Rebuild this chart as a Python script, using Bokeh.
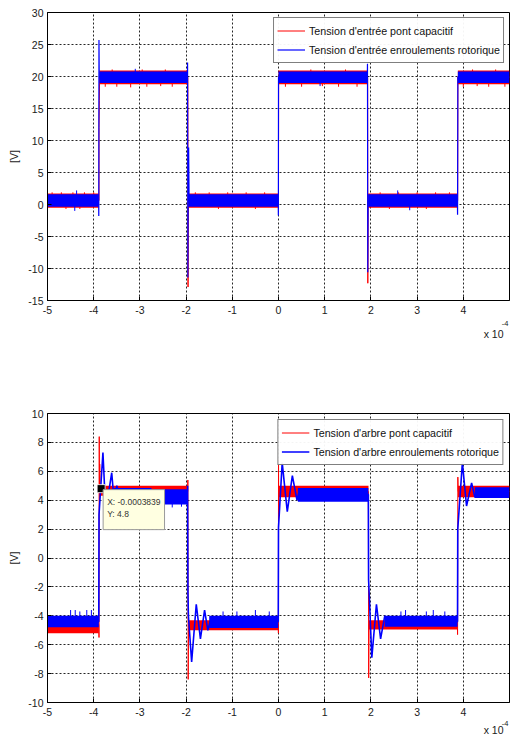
from bokeh.plotting import figure
from bokeh.models import Range1d, FixedTicker, Legend, LegendItem, Label, Title
from bokeh.layouts import column
from bokeh.embed import file_html
from bokeh.resources import INLINE

# ---------------- shared axis values (x in units of 1e-4 s) ----------------
x_ticks = [-5, -4, -3, -2, -1, 0, 1, 2, 3, 4]
top_y_ticks = [-15, -10, -5, 0, 5, 10, 15, 20, 25, 30]
bot_y_ticks = [-10, -8, -6, -4, -2, 0, 2, 4, 6, 8, 10]
x_scale_text = "x 10"
x_scale_exp = "-4"
y_label = "[V]"

top_labels = ["Tension d'entrée pont capacitif", "Tension d'entrée enroulements rotorique"]
bot_labels = ["Tension d'arbre pont capacitif", "Tension d'arbre enroulements rotorique"]

# ---------------- TOP PANEL: input voltages ----------------
top_red_x = [-5.0, -3.885, -3.885, -3.878, -3.872, -1.962, -1.958, -1.95, 0.0, 0.003, 1.93, 1.933, 1.94, 3.878, 3.883, 5.0]
top_red_y = [0.6, 0.6, 12.0, 16.2, 19.9, 19.9, -12.9, 0.6, 0.6, 19.9, 19.9, -12.3, 0.6, 0.6, 19.9, 19.9]

top_blue_x = [-5.0, -3.893, -3.89, -3.886, -3.88, -1.972, -1.968, -1.962, -1.955, -1.945, -1.935, -0.006, -0.003, 0.0,
              1.922, 1.926, 1.932, 1.94, 3.872, 3.876, 3.882, 5.0]
top_blue_y = [0.6, 0.6, -1.8, 25.7, 19.9, 19.9, 22.2, -11.4, 0.6, 8.9, 0.6, 0.6, -1.7, 19.9,
              19.9, 22.0, -10.6, 0.6, 0.6, -1.6, 19.9, 19.9]

# noise bands (start, end, low, high)
top_band_x0 = [-5.0, -3.875, -1.95, 0.0, 1.94, 3.882]
top_band_x1 = [-3.89, -1.962, 0.0, 1.928, 3.874, 5.0]
top_red_band_lo = [-0.5, 18.8, -0.5, 18.8, -0.5, 18.8]
top_red_band_hi = [1.7, 20.95, 1.7, 20.95, 1.7, 20.95]
top_blue_band_lo = [-0.35, 19.0, -0.35, 19.0, -0.35, 19.0]
top_blue_band_hi = [1.6, 20.8, 1.6, 20.8, 1.6, 20.8]

top_red_spike_x = [-3.75, -3.5, -3.2, -2.85, -2.55, -2.3, -3.6, -2.95, -2.45,
                   0.15, 0.5, 0.95, 1.3, 1.7, 0.7, 1.45,
                   4.0, 4.3, 4.55, 4.9, 4.2, 4.7,
                   -4.9, -4.7, -4.45, -4.2, -4.0, -4.6, -4.3,
                   -1.8, -1.5, -1.1, -0.7, -0.3, -1.3, -0.5,
                   2.2, 2.6, 3.0, 3.4, 3.7, 2.4, 3.2]
top_red_spike_y0 = [19.9] * 9 + [19.9] * 7 + [19.9] * 6 + [0.6] * 7 + [0.6] * 7 + [0.6] * 7
top_red_spike_y1 = [18.4, 18.4, 18.3, 18.4, 18.5, 18.4, 21.1, 21.1, 21.1,
                    18.4, 18.4, 18.5, 18.4, 18.4, 21.1, 21.1,
                    18.4, 18.5, 18.4, 18.4, 21.1, 21.1,
                    1.9, 1.9, 1.9, 1.9, 1.9, -0.7, -0.7,
                    1.9, 1.9, 1.9, 1.9, 1.9, -0.7, -0.7,
                    1.9, 1.9, 1.9, 1.9, 1.9, -0.7, -0.7]

top_blue_spike_x = [-4.41, -4.37, 2.58, 2.84, -3.1, 0.9]
top_blue_spike_y0 = [0.6, 0.6, 0.6, 0.6, 19.9, 19.9]
top_blue_spike_y1 = [-1.0, 2.2, 2.2, -0.9, 21.2, 18.5]

# ---------------- BOTTOM PANEL: shaft voltages ----------------
bot_red_x = [-5.0, -3.89, -3.885, -3.88, -3.875, -3.87, -3.86, -1.965, -1.962, -1.958, -1.955, -1.945, -0.005,
             -0.002, 0.0, 0.005, 0.012, 1.945, 1.948, 1.952, 1.96, 3.872, 3.876, 3.882, 3.888, 5.0]
bot_red_y = [-4.6, -4.6, -5.5, 8.4, 3.3, 6.5, 4.6, 4.6, 5.4, -3.2, -8.4, -4.6, -4.6,
             -5.2, 6.8, 3.2, 4.6, 4.6, -1.5, -8.3, -4.6, -4.6, -5.3, 5.6, 4.6, 4.6]

bot_blue_x = [-5.0, -3.89, -3.885, -3.80, -3.74, -3.61, -3.56, -3.50, -3.45,
              -1.972, -1.968, -1.96, -1.95, -1.88, -1.78, -1.69, -1.60, -1.53, -1.48,
              -0.005, 0.0, 0.08, 0.19, 0.30, 0.40, 0.46, 0.52,
              1.945, 1.95, 2.02, 2.12, 2.21, 2.30, 2.36,
              3.875, 3.88, 3.98, 4.07, 4.18, 4.25, 4.32, 5.0]
bot_blue_y = [-4.4, -4.4, 3.0, 7.3, 3.2, 5.9, 4.0, 5.0, 4.4,
              4.4, 5.0, -2.4, -4.0, -7.2, -3.2, -5.6, -3.6, -5.0, -4.4,
              -4.4, 2.1, 6.6, 3.2, 5.7, 4.0, 4.8, 4.4,
              4.4, -1.5, -6.9, -3.2, -5.6, -4.0, -4.4,
              -4.4, 2.0, 6.6, 3.6, 5.2, 4.2, 4.6, 4.6]

bot_red_band_x0 = [-5.0, -3.87, -1.95, 0.0, 1.955, 3.885]
bot_red_band_x1 = [-3.89, -1.962, -0.003, 1.948, 3.874, 5.0]
bot_red_band_lo = [-5.2, 4.3, -5.0, 4.2, -4.95, 4.2]
bot_red_band_hi = [-4.3, 5.0, -4.3, 5.0, -4.3, 5.0]

bot_blue_band_x0 = [-5.0, -3.56, -2.75, -1.5, 0.42, 2.3, 4.25]
bot_blue_band_x1 = [-3.89, -2.75, -1.972, -0.005, 1.945, 3.875, 5.0]
bot_blue_band_lo = [-4.8, 4.0, 3.7, -4.85, 3.9, -4.75, 4.15]
bot_blue_band_hi = [-4.0, 4.85, 4.75, -4.0, 4.85, -4.0, 4.9]

bot_blue_spike_x = [-4.5, -4.4, -4.3, -4.15, -4.05, -1.2, -0.9, -0.5, -0.2, 2.65, 2.75, 3.2, 3.35, 3.6, -2.6, -2.3, -2.1]
bot_blue_spike_y0 = [-4.4] * 14 + [4.3] * 3
bot_blue_spike_y1 = [-3.6, -3.6, -3.7, -3.6, -3.6, -3.7, -3.7, -3.6, -3.7, -3.7, -3.6, -3.7, -3.6, -3.7, 3.5, 3.5, 3.55]

datatip_x = [-3.839]
datatip_y = [4.8]
datatip_text = "X: -0.0003839\nY: 4.8"

RED = "#ff0000"
BLUE = "#0000ff"
FONT = "Liberation Sans, Arial, sans-serif"
TICK_FONT = "Liberation Sans Narrow, Liberation Sans, Arial, sans-serif"


def make_fig(height, yr, yticks, top_border, bottom_border):
    p = figure(width=510, height=height, x_range=Range1d(-5, 5), y_range=Range1d(*yr),
               output_backend="svg", toolbar_location=None,
               min_border_left=47, min_border_right=1,
               min_border_top=top_border, min_border_bottom=bottom_border)
    p.xaxis.ticker = FixedTicker(ticks=x_ticks)
    p.yaxis.ticker = FixedTicker(ticks=yticks)
    p.xaxis.major_label_overrides = {t: str(t) for t in x_ticks}
    p.yaxis.major_label_overrides = {t: str(t) for t in yticks}
    p.xgrid.ticker = FixedTicker(ticks=x_ticks)
    p.ygrid.ticker = FixedTicker(ticks=yticks)
    p.grid.grid_line_color = "black"
    p.grid.grid_line_dash = "2 2"
    p.grid.grid_line_alpha = 0.85
    p.axis.axis_line_color = "black"
    p.axis.major_tick_line_color = "black"
    p.axis.major_tick_in = 4
    p.axis.major_tick_out = 0
    p.axis.minor_tick_line_color = None
    p.axis.major_label_text_font = TICK_FONT
    p.axis.major_label_text_font_size = "10.5px"
    p.axis.major_label_text_color = "#1a1a1a"
    p.xaxis.major_label_standoff = 5
    p.yaxis.major_label_standoff = 4
    p.yaxis.axis_label = y_label
    p.yaxis.axis_label_text_font = TICK_FONT
    p.yaxis.axis_label_text_font_style = "normal"
    p.yaxis.axis_label_text_font_size = "10.5px"
    p.yaxis.axis_label_text_color = "#1a1a1a"
    p.yaxis.axis_label_standoff = 5
    p.outline_line_color = "black"
    p.outline_line_alpha = 1
    p.background_fill_color = "white"
    p.border_fill_color = "white"
    return p


def add_legend(p, items, margin):
    lg = Legend(items=items, location="top_right")
    lg.margin = margin
    lg.padding = 3
    lg.spacing = 0
    lg.border_line_color = "black"
    lg.border_line_width = 1
    lg.label_text_font = FONT
    lg.label_text_font_size = "10.7px"
    lg.label_text_color = "#111111"
    lg.glyph_width = 28
    lg.glyph_height = 19
    lg.label_height = 19
    lg.label_standoff = 4
    p.add_layout(lg)


def add_scale_label(p, exp_standoff, base_standoff):
    t1 = Title(text=x_scale_exp, align="right", offset=1, text_font=TICK_FONT,
               text_font_size="7.5px", text_font_style="normal", text_color="#1a1a1a")
    t2 = Title(text=x_scale_text, align="right", offset=6, text_font=TICK_FONT,
               text_font_size="10.5px", text_font_style="normal", text_color="#1a1a1a")
    try:
        t1.standoff = exp_standoff
    except Exception:
        t1.standoff = 0
    try:
        t2.standoff = base_standoff
    except Exception:
        t2.standoff = 0
    p.add_layout(t1, "below")
    p.add_layout(t2, "below")


# ---- top ----
p1 = make_fig(400, (-15, 30), top_y_ticks, 12, 100)
p1.quad(left=top_band_x0, right=top_band_x1, bottom=top_red_band_lo, top=top_red_band_hi,
        fill_color=RED, line_color=None)
p1.segment(x0=top_red_spike_x, y0=top_red_spike_y0, x1=top_red_spike_x, y1=top_red_spike_y1,
           line_color=RED, line_width=1)
r1 = p1.line(top_red_x, top_red_y, line_color=RED, line_width=1)
p1.quad(left=top_band_x0, right=top_band_x1, bottom=top_blue_band_lo, top=top_blue_band_hi,
        fill_color=BLUE, line_color=None)
p1.segment(x0=top_blue_spike_x, y0=top_blue_spike_y0, x1=top_blue_spike_x, y1=top_blue_spike_y1,
           line_color=BLUE, line_width=1)
b1 = p1.line(top_blue_x, top_blue_y, line_color=BLUE, line_width=1.2)
add_legend(p1, [LegendItem(label=top_labels[0], renderers=[r1]),
                LegendItem(label=top_labels[1], renderers=[b1])], 5)
add_scale_label(p1, 5, -5)

# ---- bottom ----
p2 = make_fig(336, (-10, 10), bot_y_ticks, 13, 34)
p2.quad(left=bot_red_band_x0, right=bot_red_band_x1, bottom=bot_red_band_lo, top=bot_red_band_hi,
        fill_color=RED, line_color=None)
r2 = p2.line(bot_red_x, bot_red_y, line_color=RED, line_width=1)
p2.quad(left=bot_blue_band_x0, right=bot_blue_band_x1, bottom=bot_blue_band_lo, top=bot_blue_band_hi,
        fill_color=BLUE, line_color=None)
p2.segment(x0=bot_blue_spike_x, y0=bot_blue_spike_y0, x1=bot_blue_spike_x, y1=bot_blue_spike_y1,
           line_color=BLUE, line_width=1)
b2 = p2.line(bot_blue_x, bot_blue_y, line_color=BLUE, line_width=1.6)
p2.scatter(datatip_x, datatip_y, marker="square", size=8, fill_color="black", line_color="white",
           line_width=0.8)
tip = Label(x=datatip_x[0], y=datatip_y[0], x_offset=2, y_offset=-1, text=datatip_text,
            text_align="left", text_baseline="top", text_font=TICK_FONT, text_font_size="8.5px",
            text_color="#333333", background_fill_color="#ffffe1", background_fill_alpha=1,
            border_line_color="#9a9a9a", border_line_width=1)
try:
    tip.padding = dict(left=4, right=4, top=7, bottom=11)
except Exception:
    tip.padding = 6
p2.add_layout(tip)
add_legend(p2, [LegendItem(label=bot_labels[0], renderers=[r2]),
                LegendItem(label=bot_labels[1], renderers=[b2])], 6)
add_scale_label(p2, 0, -7)

layout = column(p1, p2, spacing=0)
open("out.html", "w").write(file_html(layout, INLINE))
